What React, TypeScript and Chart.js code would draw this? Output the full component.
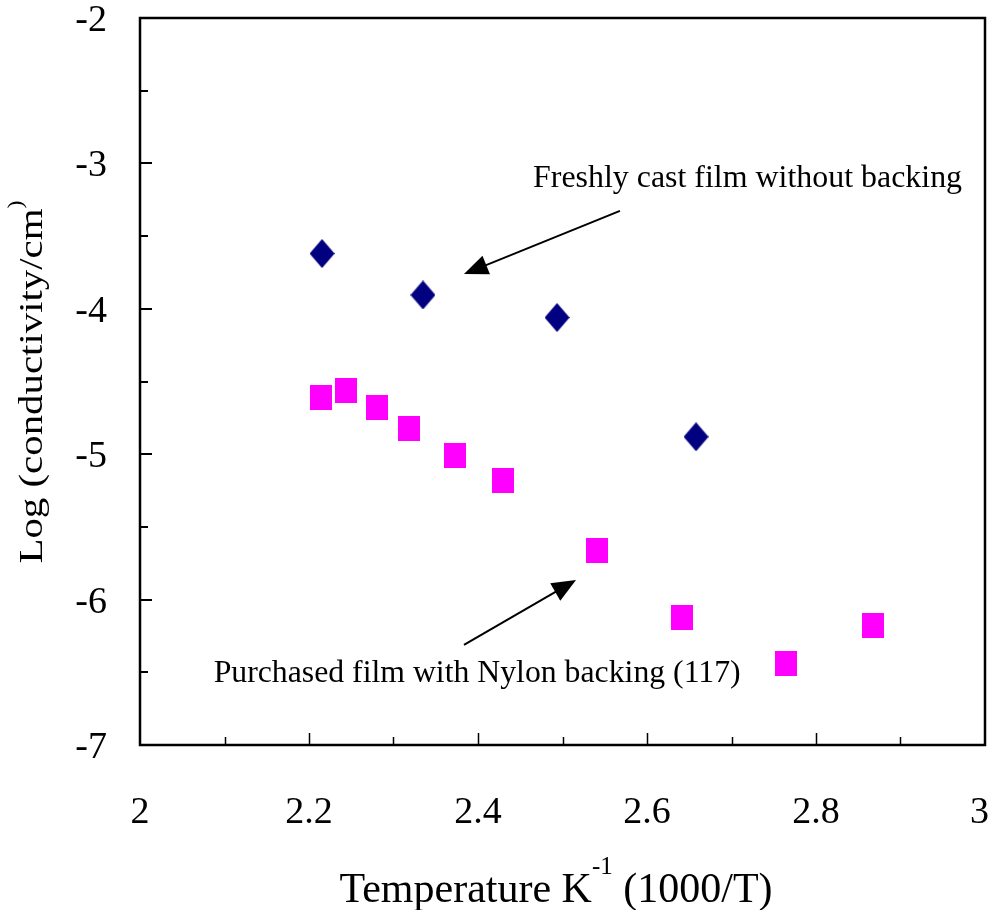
import React, { useEffect, useRef } from "react";
import { Chart, registerables } from "chart.js";

Chart.register(...registerables);

const freshX = [2.2154, 2.3349, 2.4935, 2.658];
const freshY = [-3.62, -3.905, -4.06, -4.88];
const purchasedX = [2.2142, 2.2438, 2.2805, 2.3183, 2.3728, 2.4296, 2.5408, 2.6414, 2.7645, 2.8675];
const purchasedY = [-4.61, -4.565, -4.68, -4.82, -5.01, -5.18, -5.66, -6.12, -6.44, -6.18];
const xTicks = [2, 2.2, 2.4, 2.6, 2.8, 3];
const yTicks = [-7, -6, -5, -4, -3, -2];

const annotations = [
  { text: "Freshly cast film without backing", tx: 2.719, ty: -3.16, w: 429, from: [2.568, -3.327], to: [2.3834, -3.761] },
  { text: "Purchased film with Nylon backing (117)", tx: 2.399, ty: -6.57, w: 527, from: [2.3834, -6.312], to: [2.516, -5.865] },
];

const FONT = '"Liberation Serif", "Times New Roman", serif';

function makeMarker(kind: string, color: string) {
  const c = document.createElement("canvas");
  if (kind === "diamond") {
    c.width = 25; c.height = 29;
    const g = c.getContext("2d") as CanvasRenderingContext2D;
    g.fillStyle = color;
    g.beginPath();
    g.moveTo(12.5, 0); g.lineTo(25, 14.5); g.lineTo(12.5, 29); g.lineTo(0, 14.5);
    g.closePath(); g.fill();
  } else {
    c.width = 22; c.height = 25;
    const g = c.getContext("2d") as CanvasRenderingContext2D;
    g.fillStyle = color;
    g.fillRect(0, 0, 22, 25);
  }
  return c;
}

const framePlugin = {
  id: "frame",
  afterDatasetsDraw(chart: any) {
    const { ctx, chartArea: a, scales, width } = chart;
    const xs = scales.x, ys = scales.y;
    ctx.save();
    ctx.strokeStyle = "#000";
    ctx.lineWidth = 2.5;
    ctx.strokeRect(a.left, a.top, a.right - a.left, a.bottom - a.top);
    ctx.lineWidth = 1.5;
    for (let i = 1; i < 10; i++) {
      const px = Math.round(xs.getPixelForValue(2 + i * 0.1)) + 0.5;
      const len = i % 2 === 0 ? 12 : 8;
      ctx.beginPath();
      ctx.moveTo(px, a.bottom);
      ctx.lineTo(px, a.bottom - len);
      ctx.stroke();
    }
    ctx.lineWidth = 2;
    for (let i = 1; i < 10; i++) {
      const py = Math.round(ys.getPixelForValue(-7 + i * 0.5));
      const len = i % 2 === 0 ? 12 : 8;
      ctx.beginPath();
      ctx.moveTo(a.left, py);
      ctx.lineTo(a.left + len, py);
      ctx.stroke();
    }
    // tick labels
    ctx.fillStyle = "#000";
    ctx.font = `38px ${FONT}`;
    ctx.textBaseline = "middle";
    ctx.textAlign = "right";
    for (const v of yTicks) {
      ctx.fillText(String(v), a.left - 33, ys.getPixelForValue(v) + 3);
    }
    ctx.textAlign = "center";
    for (const v of xTicks) {
      const s = String(v);
      const hw = ctx.measureText(s).width / 2;
      const px = Math.min(xs.getPixelForValue(v), width - hw - 1);
      ctx.fillText(s, px, a.bottom + 68);
    }
    // annotations
    ctx.textBaseline = "alphabetic";
    for (const an of annotations) {
      ctx.font = `32px ${FONT}`;
      const mw = ctx.measureText(an.text).width;
      const sc = an.w / mw;
      ctx.save();
      ctx.translate(xs.getPixelForValue(an.tx), ys.getPixelForValue(an.ty));
      ctx.scale(sc, 1);
      ctx.textAlign = "center";
      ctx.fillText(an.text, 0, 0);
      ctx.restore();
      const x1 = xs.getPixelForValue(an.from[0]), y1 = ys.getPixelForValue(an.from[1]);
      const x2 = xs.getPixelForValue(an.to[0]), y2 = ys.getPixelForValue(an.to[1]);
      const ang = Math.atan2(y2 - y1, x2 - x1);
      const hl = 24, hw = 10;
      ctx.lineWidth = 2;
      ctx.beginPath();
      ctx.moveTo(x1, y1);
      ctx.lineTo(x2 - hl * 0.8 * Math.cos(ang), y2 - hl * 0.8 * Math.sin(ang));
      ctx.stroke();
      ctx.beginPath();
      ctx.moveTo(x2, y2);
      ctx.lineTo(x2 - hl * Math.cos(ang) + hw * Math.sin(ang), y2 - hl * Math.sin(ang) - hw * Math.cos(ang));
      ctx.lineTo(x2 - hl * Math.cos(ang) - hw * Math.sin(ang), y2 - hl * Math.sin(ang) + hw * Math.cos(ang));
      ctx.closePath();
      ctx.fill();
    }
    // x title
    ctx.textAlign = "left";
    const t1 = "Temperature K", sup = "-1", t2 = " (1000/T)";
    ctx.font = `42px ${FONT}`;
    const w1 = ctx.measureText(t1).width;
    const w2 = ctx.measureText(t2).width;
    ctx.font = `25px ${FONT}`;
    const ws = ctx.measureText(sup).width;
    const total = w1 + ws + w2;
    const sx = 556 - total / 2;
    const by = 902;
    ctx.font = `42px ${FONT}`;
    ctx.fillText(t1, sx, by);
    ctx.fillText(t2, sx + w1 + ws, by);
    ctx.font = `25px ${FONT}`;
    ctx.fillText(sup, sx + w1, by - 28);
    // y title
    ctx.save();
    ctx.translate(42, 382);
    ctx.rotate(-Math.PI / 2);
    const y1t = "Log (conductivity/cm", y2t = ")";
    ctx.font = `34px ${FONT}`;
    const m1 = ctx.measureText(y1t).width;
    ctx.font = `20px ${FONT}`;
    const m2 = ctx.measureText(y2t).width;
    const len = m1 + m2;
    const k = 363 / len;
    ctx.scale(k, 1);
    ctx.font = `34px ${FONT}`;
    ctx.fillText(y1t, -len / 2, 0);
    ctx.font = `20px ${FONT}`;
    ctx.fillText(y2t, -len / 2 + m1, -20);
    ctx.restore();
    ctx.restore();
  },
};

export default function App() {
  const ref = useRef<HTMLCanvasElement>(null);
  useEffect(() => {
    document.body.style.margin = "0";
    const chart = new Chart(ref.current as HTMLCanvasElement, {
      type: "scatter",
      data: {
        datasets: [
          {
            label: "Freshly cast film without backing",
            data: freshX.map((x, i) => ({ x, y: freshY[i] })),
            pointStyle: makeMarker("diamond", "#000080") as any,
            pointRadius: 12,
            backgroundColor: "#000080",
            borderColor: "#000080",
          },
          {
            label: "Purchased film with Nylon backing (117)",
            data: purchasedX.map((x, i) => ({ x, y: purchasedY[i] })),
            pointStyle: makeMarker("square", "#FF00FF") as any,
            pointRadius: 12,
            backgroundColor: "#FF00FF",
            borderColor: "#FF00FF",
          },
        ],
      },
      options: {
        animation: false,
        responsive: false,
        layout: { autoPadding: false, padding: { left: 0, top: 18, right: 5, bottom: 0 } },
        plugins: { legend: { display: false }, tooltip: { enabled: false } },
        scales: {
          x: {
            type: "linear",
            min: 2,
            max: 3,
            afterFit: (s: any) => { s.height = 165; s.paddingLeft = 0; s.paddingRight = 0; },
            afterBuildTicks: (s: any) => { s.ticks = xTicks.map((v) => ({ value: v })); },
            grid: { display: false, drawTicks: false },
            border: { display: false },
            ticks: { display: false },
          },
          y: {
            type: "linear",
            min: -7,
            max: -2,
            afterFit: (s: any) => { s.width = 140; s.paddingTop = 0; s.paddingBottom = 0; },
            afterBuildTicks: (s: any) => { s.ticks = yTicks.map((v) => ({ value: v })); },
            grid: { display: false, drawTicks: false },
            border: { display: false },
            ticks: { display: false },
          },
        },
      },
      plugins: [framePlugin],
    });
    return () => chart.destroy();
  }, []);
  return (
    <div style={{ width: 990, height: 910 }}>
      <canvas ref={ref} width={990} height={910} style={{ display: "block" }} />
    </div>
  );
}
